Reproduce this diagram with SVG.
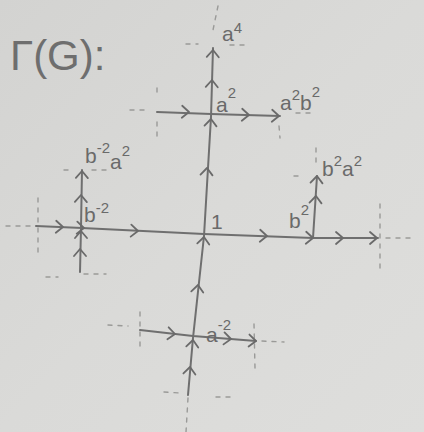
<svg xmlns="http://www.w3.org/2000/svg" width="424" height="432" viewBox="0 0 424 432">
<defs>
<linearGradient id="paper" x1="0" y1="0" x2="1" y2="1">
<stop offset="0" stop-color="#d3d3d1"/>
<stop offset="0.5" stop-color="#dadad8"/>
<stop offset="1" stop-color="#dededc"/>
</linearGradient>
<path id="chev" d="M-7,-6 L0,0 L-7,6"/>
</defs>
<style>
.edge{fill:none;stroke:#6f6f6f;stroke-width:2;stroke-linecap:round;stroke-linejoin:round}
.arr use{fill:none;stroke:#6a6a6a;stroke-width:1.8;stroke-linecap:round;stroke-linejoin:round}
.dot{fill:none;stroke:#9a9a98;stroke-width:1.4;stroke-linecap:round;stroke-dasharray:4 6}
.lbl{font-family:"Liberation Sans",Arial,sans-serif;fill:#6a6a6a;font-size:21px}
.sup{font-size:15px}
.title{font-family:"Liberation Sans",Arial,sans-serif;fill:#6e6e6e;font-size:42px}
</style>
<rect width="424" height="432" fill="url(#paper)"/>

<g id="title"><text class="title" x="10" y="70">Γ(G):</text></g>

<g id="connectors">
<path class="edge" d="M188,395 L193,338 L204,236 L211,117 L213,48"/>
<path class="edge" d="M157,112 L211,114 L280,116"/>
<path class="edge" d="M36,226 L82,228 L204,234 L313,238 L378,238"/>
<path class="edge" d="M80,272 L81,228 L82,170"/>
<path class="edge" d="M313,238 L317,176"/>
<path class="edge" d="M140,330 L193,336 L256,341"/>
<g class="dots">
<path class="dot" d="M218,6 L213,30"/>
<path class="dot" d="M186,44 L198,44 M230,45 L244,45"/>
<path class="dot" d="M157,88 L157,98 M157,122 L157,138 M130,110 L146,110"/>
<path class="dot" d="M296,113 L310,113 M279,126 L280,138"/>
<path class="dot" d="M64,170 L74,170 M92,170 L110,170"/>
<path class="dot" d="M294,176 L304,176 M316,148 L316,162"/>
<path class="dot" d="M6,226 L30,226 M38,198 L38,252"/>
<path class="dot" d="M386,238 L414,238 M380,204 L380,272"/>
<path class="dot" d="M46,277 L58,277 M84,274 L106,274"/>
<path class="dot" d="M108,325 L128,326 M140,312 L140,350"/>
<path class="dot" d="M262,341 L284,342 M254,324 L255,368"/>
<path class="dot" d="M164,392 L180,393 M216,397 L232,397 M188,398 L186,432"/>
</g>
<g class="arr">
<use href="#chev" transform="translate(213,50) rotate(-88)"/>
<use href="#chev" transform="translate(212,80) rotate(-88)"/>
<use href="#chev" transform="translate(211,119) rotate(-86)"/>
<use href="#chev" transform="translate(207,168) rotate(-86)"/>
<use href="#chev" transform="translate(204,237) rotate(-84)"/>
<use href="#chev" transform="translate(198,285) rotate(-84)"/>
<use href="#chev" transform="translate(193,340) rotate(-84)"/>
<use href="#chev" transform="translate(190,367) rotate(-85)"/>
<use href="#chev" transform="translate(189,112) rotate(2)"/>
<use href="#chev" transform="translate(249,115) rotate(2)"/>
<use href="#chev" transform="translate(279,116) rotate(2)"/>
<use href="#chev" transform="translate(63,227) rotate(2)"/>
<use href="#chev" transform="translate(84,228) rotate(3)"/>
<use href="#chev" transform="translate(138,231) rotate(3)"/>
<use href="#chev" transform="translate(267,236) rotate(2)"/>
<use href="#chev" transform="translate(313,238) rotate(2)"/>
<use href="#chev" transform="translate(343,238) rotate(0)"/>
<use href="#chev" transform="translate(377,238) rotate(0)"/>
<use href="#chev" transform="translate(82,171) rotate(-89)"/>
<use href="#chev" transform="translate(81,195) rotate(-89)"/>
<use href="#chev" transform="translate(81,231) rotate(-90)"/>
<use href="#chev" transform="translate(80,249) rotate(-90)"/>
<use href="#chev" transform="translate(317,176) rotate(-86)"/>
<use href="#chev" transform="translate(316,196) rotate(-86)"/>
<use href="#chev" transform="translate(175,334) rotate(6)"/>
<use href="#chev" transform="translate(231,339) rotate(5)"/>
<use href="#chev" transform="translate(256,341) rotate(4)"/>
</g>
</g>

<g id="n-1"><text class="lbl" x="211" y="229">1</text></g>
<g id="n-a2"><text class="lbl" x="216" y="112">a<tspan class="sup" dy="-14">2</tspan></text></g>
<g id="n-a4"><text class="lbl" x="222" y="41">a<tspan class="sup" dy="-8">4</tspan></text></g>
<g id="n-a2b2"><text class="lbl" x="280" y="110">a<tspan class="sup" dy="-10">2</tspan><tspan dy="10">b</tspan><tspan class="sup" dy="-13">2</tspan></text></g>
<g id="n-bm2a2"><text class="lbl" x="85" y="163">b<tspan class="sup" dy="-10">-2</tspan><tspan dy="16">a</tspan><tspan class="sup" dy="-13">2</tspan></text></g>
<g id="n-bm2"><text class="lbl" x="84" y="222">b<tspan class="sup" dy="-9">-2</tspan></text></g>
<g id="n-b2"><text class="lbl" x="289" y="228">b<tspan class="sup" dy="-13">2</tspan></text></g>
<g id="n-b2a2"><text class="lbl" x="322" y="176">b<tspan class="sup" dy="-10">2</tspan><tspan dy="10">a</tspan><tspan class="sup" dy="-10">2</tspan></text></g>
<g id="n-am2"><text class="lbl" x="206" y="342">a<tspan class="sup" dy="-12">-2</tspan></text></g>
</svg>
